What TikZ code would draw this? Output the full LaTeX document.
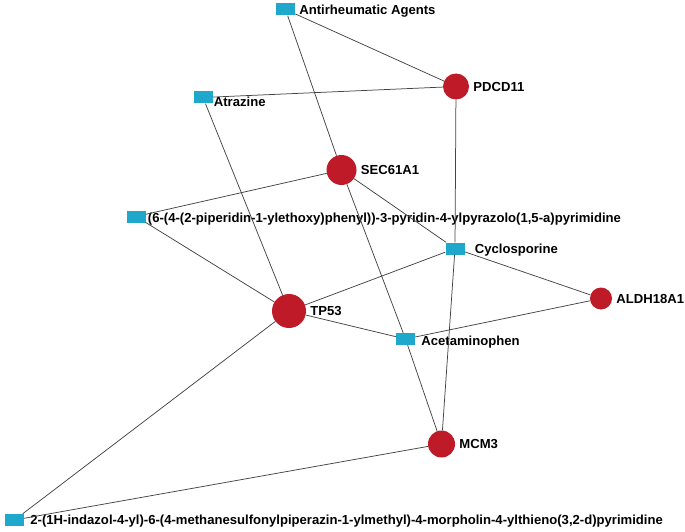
\documentclass[tikz,border=0pt]{standalone}
\usepackage{fontspec}
\setmainfont{Liberation Sans}
\definecolor{drugblue}{HTML}{1FA8CB}
\definecolor{genered}{HTML}{BE1A28}
\definecolor{edgegray}{HTML}{444444}
\tikzset{
  drug/.style={rectangle, fill=drugblue, minimum width=19pt, minimum height=12pt, inner sep=0pt},
  gene/.style={circle, fill=genered, inner sep=0pt},
  every label/.style={font=\fontsize{13.1}{15}\selectfont\bfseries, inner sep=0pt, text depth=0pt},
  label distance=4pt
}
\begin{document}
\begin{tikzpicture}[x=1pt, y=-1pt]
      \useasboundingbox (0,0) rectangle (685,532);
      \draw
        (285.5,9.5) node[drug, label=right:Antirheumatic Agents] (antirheum){}
        (456,86.5) node[gene, minimum size=26pt, label=right:PDCD11] (pdcd11){}
        (203,97.5) node[drug, label={[label distance=1pt, yshift=-4pt]right:Atrazine}] (atrazine){}
        (341.5,170) node[gene, minimum size=30pt, label=right:SEC61A1] (sec61a1){}
        (136,216.5) node[drug, label={[label distance=2pt, yshift=-1pt]right:(6-(4-(2-piperidin-1-ylethoxy)phenyl))-3-pyridin-4-ylpyrazolo(1,5-a)pyrimidine}] (pipcmpd){}
        (455,248.5) node[drug, label={[label distance=10pt]right:Cyclosporine}] (cyclo){}
        (601,298.5) node[gene, minimum size=22pt, label=right:ALDH18A1] (aldh18a1){}
        (289,311) node[gene, minimum size=34pt, label=right:TP53] (tp53){}
        (405.5,339) node[drug, label={[label distance=6pt, yshift=-2pt]right:Acetaminophen}] (acet){}
        (441.5,444) node[gene, minimum size=27pt, label=right:MCM3] (mcm3){}
        (14.5,520) node[drug, label={[label distance=6pt]right:2-(1H-indazol-4-yl)-6-(4-methanesulfonylpiperazin-1-ylmethyl)-4-morpholin-4-ylthieno(3,2-d)pyrimidine}] (indazole){};
      \begin{scope}[-, draw=edgegray, line width=0.75pt]
        \draw (antirheum) to (pdcd11);
        \draw (antirheum) to (sec61a1);
        \draw (atrazine) to (pdcd11);
        \draw (atrazine) to (tp53);
        \draw (pipcmpd) to (sec61a1);
        \draw (pipcmpd) to (tp53);
        \draw (cyclo) to (pdcd11);
        \draw (cyclo) to (sec61a1);
        \draw (cyclo) to (tp53);
        \draw (cyclo) to (aldh18a1);
        \draw (cyclo) to (mcm3);
        \draw (acet) to (sec61a1);
        \draw (acet) to (tp53);
        \draw (acet) to (aldh18a1);
        \draw (acet) to (mcm3);
        \draw (indazole) to (tp53);
        \draw (indazole) to (mcm3);
      \end{scope}
    \end{tikzpicture}
\end{document}
